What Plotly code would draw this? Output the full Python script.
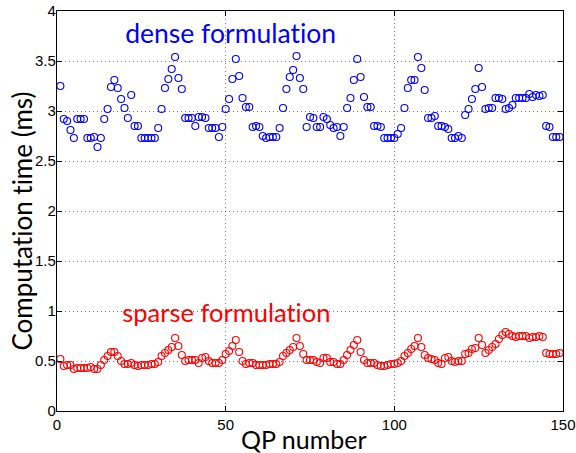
import plotly.graph_objects as go

qp = list(range(1, 150))

dense_ms = [
    3.25, 2.92, 2.90, 2.81, 2.73, 2.92, 2.92, 2.92, 2.73, 2.73,
    2.74, 2.64, 2.73, 2.92, 3.02, 3.24, 3.31, 3.23, 3.12, 3.03,
    2.93, 3.16, 2.85, 2.85, 2.73, 2.73, 2.73, 2.73, 2.73, 2.83,
    3.02, 3.23, 3.32, 3.42, 3.54, 3.33, 3.22, 2.93, 2.93, 2.93,
    2.85, 2.94, 2.94, 2.93, 2.83, 2.83, 2.83, 2.74, 2.84, 3.02,
    3.12, 3.32, 3.52, 3.35, 3.13, 3.04, 3.04, 2.84, 2.85, 2.84,
    2.75, 2.73, 2.74, 2.74, 2.74, 2.83, 3.03, 3.22, 3.34, 3.41,
    3.55, 3.33, 3.22, 2.84, 2.94, 2.93, 2.84, 2.84, 2.94, 2.92,
    2.86, 2.83, 2.84, 2.75, 2.84, 3.03, 3.13, 3.31, 3.52, 3.34,
    3.14, 3.04, 3.04, 2.85, 2.85, 2.84, 2.73, 2.73, 2.73, 2.73,
    2.77, 2.83, 3.03, 3.23, 3.31, 3.31, 3.54, 3.43, 3.21, 2.93,
    2.93, 2.95, 2.85, 2.85, 2.84, 2.82, 2.73, 2.73, 2.75, 2.73,
    2.96, 3.02, 3.12, 3.22, 3.43, 3.24, 3.02, 3.03, 3.03, 3.13,
    3.13, 3.12, 3.02, 3.03, 3.06, 3.13, 3.13, 3.13, 3.13, 3.17,
    3.14, 3.16, 3.15, 3.16, 2.85, 2.84, 2.74, 2.74, 2.74,
]

sparse_ms = [
    0.52, 0.45, 0.46, 0.46, 0.42, 0.43, 0.43, 0.43, 0.43, 0.44,
    0.42, 0.42, 0.46, 0.51, 0.55, 0.59, 0.59, 0.55, 0.50, 0.47,
    0.47, 0.48, 0.46, 0.45, 0.46, 0.46, 0.46, 0.47, 0.47, 0.49,
    0.55, 0.58, 0.61, 0.64, 0.73, 0.65, 0.56, 0.50, 0.51, 0.51,
    0.51, 0.48, 0.53, 0.54, 0.50, 0.48, 0.48, 0.48, 0.51, 0.57,
    0.60, 0.65, 0.71, 0.59, 0.50, 0.47, 0.48, 0.48, 0.46, 0.46,
    0.46, 0.46, 0.47, 0.47, 0.47, 0.49, 0.55, 0.58, 0.61, 0.64,
    0.73, 0.65, 0.57, 0.51, 0.51, 0.51, 0.49, 0.48, 0.53, 0.53,
    0.49, 0.49, 0.47, 0.47, 0.51, 0.56, 0.61, 0.66, 0.71, 0.59,
    0.51, 0.48, 0.48, 0.48, 0.46, 0.45, 0.45, 0.46, 0.47, 0.47,
    0.48, 0.50, 0.55, 0.58, 0.62, 0.65, 0.73, 0.64, 0.56, 0.53,
    0.52, 0.51, 0.48, 0.47, 0.53, 0.54, 0.50, 0.49, 0.50, 0.50,
    0.57, 0.58, 0.62, 0.63, 0.73, 0.66, 0.58, 0.61, 0.64, 0.67,
    0.72, 0.76, 0.79, 0.77, 0.75, 0.74, 0.75, 0.75, 0.75, 0.73,
    0.74, 0.74, 0.75, 0.74, 0.58, 0.57, 0.57, 0.57, 0.58,
]

x_ticks = [0, 50, 100, 150]
y_ticks = [0, 0.5, 1, 1.5, 2, 2.5, 3, 3.5, 4]
y_tick_labels = ["0", "0.5", "1", "1.5", "2", "2.5", "3", "3.5", "4"]

TITLE_FONT = "Lato, 'Open Sans', sans-serif"
TICK_FONT = "'Liberation Sans', Arial, sans-serif"

fig = go.Figure()
fig.add_trace(go.Scatter(
    x=qp, y=dense_ms, mode="markers", name="dense",
    marker=dict(symbol="circle-open", size=7, color="#0000ff",
                line=dict(width=1.1, color="#0000ff")),
))
fig.add_trace(go.Scatter(
    x=qp, y=sparse_ms, mode="markers", name="sparse",
    marker=dict(symbol="circle-open", size=7, color="#ff0000",
                line=dict(width=1.1, color="#ff0000")),
))

# in-plot labels
fig.add_annotation(x=51.5, y=3.785, text="dense formulation", showarrow=False,
                   font=dict(family=TITLE_FONT, size=26.5, color="#0000ff"),
                   xanchor="center", yanchor="middle")
fig.add_annotation(x=50.2, y=0.99, text="sparse formulation", showarrow=False,
                   font=dict(family=TITLE_FONT, size=25.5, color="#ff0000"),
                   xanchor="center", yanchor="middle")

# axis titles as annotations for exact placement
fig.add_annotation(xref="paper", yref="paper", x=-0.0692, y=0.475,
                   text="Computation time (ms)", showarrow=False, textangle=-90,
                   font=dict(family=TITLE_FONT, size=26, color="black"),
                   xanchor="center", yanchor="middle")
fig.add_annotation(xref="paper", yref="paper", x=0.488, y=-0.07,
                   text="QP number", showarrow=False,
                   font=dict(family=TITLE_FONT, size=25, color="black"),
                   xanchor="center", yanchor="middle")

axis_common = dict(
    showline=True, linecolor="black", linewidth=1.2, mirror="ticks",
    ticks="inside", ticklen=5, tickcolor="black", tickwidth=1,
    showgrid=True, gridcolor="rgba(70,70,70,0.7)", griddash="1px,3px", gridwidth=1,
    zeroline=False, ticklabeloverflow="allow",
    tickfont=dict(family=TICK_FONT, size=15, color="black"),
)

fig.update_xaxes(range=[0, 150], tickvals=x_ticks,
                 ticktext=[str(v) for v in x_ticks], **axis_common)
fig.update_yaxes(range=[0, 4], tickvals=y_ticks, ticktext=y_tick_labels,
                 ticklabelstandoff=-3, **axis_common)

fig.update_layout(
    width=576, height=453,
    margin=dict(l=57, r=13, t=11, b=42, autoexpand=False),
    paper_bgcolor="white", plot_bgcolor="white",
    showlegend=False,
)

# remove the default 8px page margin so the figure fills the window exactly,
# and turn off typographic ligatures (e.g. "ti") in SVG text
page_js = (
    "document.body.style.margin='0';"
    "document.body.style.overflow='hidden';"
    "var s=document.createElement('style');"
    "s.textContent='text{font-variant-ligatures:none !important;}';"
    "document.head.appendChild(s);"
)
fig.write_html("out.html", post_script=page_js,
               config={"displayModeBar": False})
